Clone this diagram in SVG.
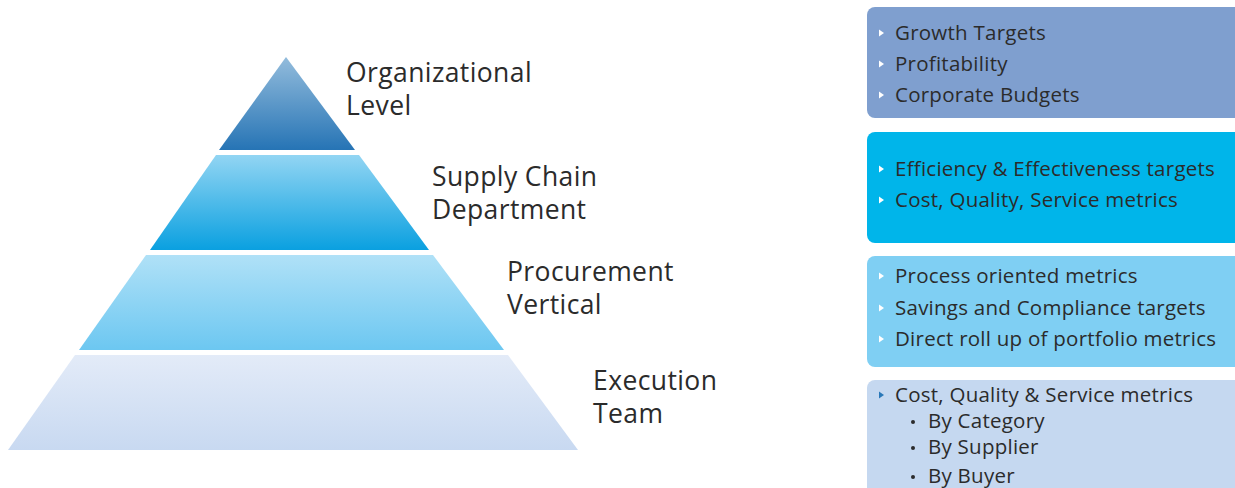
<svg xmlns="http://www.w3.org/2000/svg" width="1235" height="488" viewBox="0 0 1235 488">
<defs>
<linearGradient id="g1" x1="0" y1="0" x2="0" y2="1"><stop offset="0" stop-color="#93bcdc"/><stop offset="1" stop-color="#2674b5"/></linearGradient>
<linearGradient id="g2" x1="0" y1="0" x2="0" y2="1"><stop offset="0" stop-color="#92d5f3"/><stop offset="1" stop-color="#0aa0e0"/></linearGradient>
<linearGradient id="g3" x1="0" y1="0" x2="0" y2="1"><stop offset="0" stop-color="#b0e1f7"/><stop offset="1" stop-color="#6cc7f1"/></linearGradient>
<linearGradient id="g4" x1="0" y1="0" x2="0" y2="1"><stop offset="0" stop-color="#e3ebf8"/><stop offset="1" stop-color="#c8d9f1"/></linearGradient>
<path id="tri" d="M0,-3.5 L5,0 L0,3.5 Z"/>
</defs>
<style>
.lbl{font-family:"Open Sans","Noto Sans","Liberation Sans",sans-serif;font-size:26.5px;letter-spacing:0.4px;fill:#2b2b2b}
.bt{font-family:"Open Sans","Noto Sans","Liberation Sans",sans-serif;font-size:20.5px;letter-spacing:0.25px;fill:#2b2b2b}
.wt{fill:#ffffff}
.bl{fill:#2a78b8}
</style>
<rect width="1235" height="488" fill="#ffffff"/>
<g id="tier1">
<polygon points="286,57 355,150 219,150" fill="url(#g1)"/>
<text class="lbl" x="346" y="82">Organizational</text>
<text class="lbl" x="346" y="115">Level</text>
</g>
<g id="tier2">
<polygon points="216,155 359,155 429,250 150,250" fill="url(#g2)"/>
<text class="lbl" x="432" y="186">Supply Chain</text>
<text class="lbl" x="432" y="219">Department</text>
</g>
<g id="tier3">
<polygon points="146,255 433,255 504,350 79,350" fill="url(#g3)"/>
<text class="lbl" x="507" y="281">Procurement</text>
<text class="lbl" x="507" y="314">Vertical</text>
</g>
<g id="tier4">
<polygon points="75,355 508,355 578,450 8,450" fill="url(#g4)"/>
<text class="lbl" x="593" y="390">Execution</text>
<text class="lbl" x="593" y="423">Team</text>
</g>
<g id="box1">
<rect x="867" y="7" width="380" height="111" rx="8" fill="#7f9fcf"/>
<use href="#tri" x="879" y="33" class="wt"/><text class="bt" x="895" y="40">Growth Targets</text>
<use href="#tri" x="879" y="64" class="wt"/><text class="bt" x="895" y="71">Profitability</text>
<use href="#tri" x="879" y="95" class="wt"/><text class="bt" x="895" y="102">Corporate Budgets</text>
</g>
<g id="box2">
<rect x="867" y="132" width="380" height="111" rx="8" fill="#00b5ea"/>
<use href="#tri" x="879" y="169" class="wt"/><text class="bt" x="895" y="176">Efficiency &amp; Effectiveness targets</text>
<use href="#tri" x="879" y="200" class="wt"/><text class="bt" x="895" y="207">Cost, Quality, Service metrics</text>
</g>
<g id="box3">
<rect x="867" y="256" width="380" height="111" rx="8" fill="#7fcff3"/>
<use href="#tri" x="879" y="276" class="wt"/><text class="bt" x="895" y="283">Process oriented metrics</text>
<use href="#tri" x="879" y="308" class="wt"/><text class="bt" x="895" y="315">Savings and Compliance targets</text>
<use href="#tri" x="879" y="339" class="wt"/><text class="bt" x="895" y="346">Direct roll up of portfolio metrics</text>
</g>
<g id="box4">
<rect x="867" y="380" width="380" height="120" rx="8" fill="#c5d8f0"/>
<use href="#tri" x="879" y="395" class="bl"/><text class="bt" x="895" y="402">Cost, Quality &amp; Service metrics</text>
<circle cx="913" cy="422" r="2" fill="#2b2b2b"/><text class="bt" x="928" y="428">By Category</text>
<circle cx="913" cy="448" r="2" fill="#2b2b2b"/><text class="bt" x="928" y="454">By Supplier</text>
<circle cx="913" cy="477" r="2" fill="#2b2b2b"/><text class="bt" x="928" y="483">By Buyer</text>
</g>
<g id="connectors"></g>
</svg>
